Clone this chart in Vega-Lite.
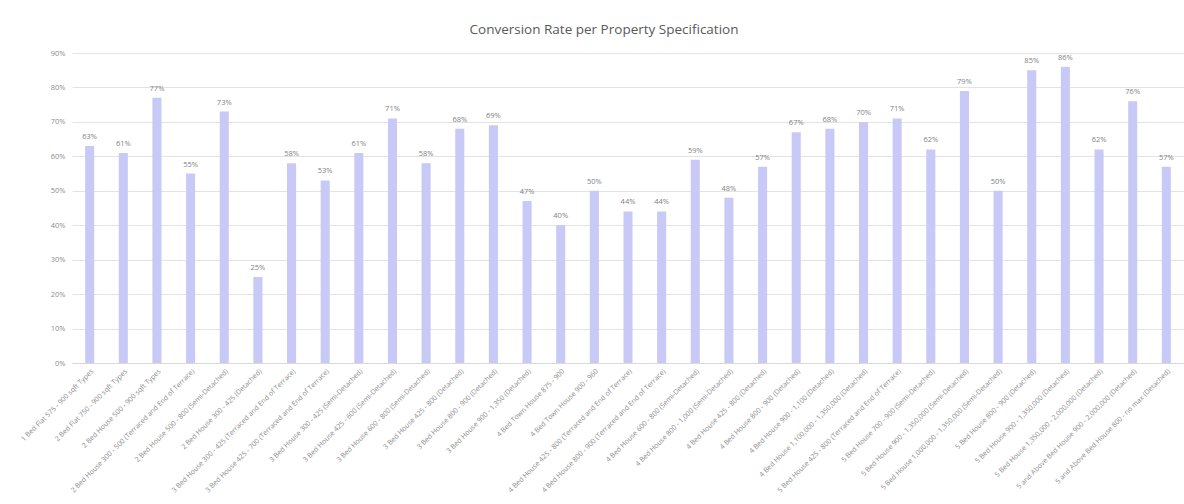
{
  "$schema": "https://vega.github.io/schema/vega-lite/v6.json",
  "autosize": "none",
  "width": 1112,
  "height": 310,
  "padding": {"left": 72, "top": 53, "right": 0, "bottom": 141},
  "background": "white",
  "title": {
    "text": "Conversion Rate per Property Specification",
    "font": "Open Sans",
    "fontSize": 13.5,
    "fontWeight": "normal",
    "color": "#595959",
    "anchor": "middle",
    "dx": -24,
    "offset": 13
  },
  "data": {
    "values": [
      {"spec": "1 Bed Flat 575 - 900 sqft Types", "rate": 0.63},
      {"spec": "2 Bed Flat 750 - 900 sqft Types", "rate": 0.61},
      {"spec": "2 Bed House 500 - 900 sqft Types", "rate": 0.77},
      {"spec": "2 Bed House 300 - 500 (Terraced and End of Terrace)", "rate": 0.55},
      {"spec": "2 Bed House 500 - 800 (Semi-Detached)", "rate": 0.73},
      {"spec": "2 Bed House 300 - 425 (Detached)", "rate": 0.25},
      {"spec": "3 Bed House 300 - 425 (Terraced and End of Terrace)", "rate": 0.58},
      {"spec": "3 Bed House 425 - 700 (Terraced and End of Terrace)", "rate": 0.53},
      {"spec": "3 Bed House 300 - 425 (Semi-Detached)", "rate": 0.61},
      {"spec": "3 Bed House 425 - 600 (Semi-Detached)", "rate": 0.71},
      {"spec": "3 Bed House 600 - 800 (Semi-Detached)", "rate": 0.58},
      {"spec": "3 Bed House 425 - 800 (Detached)", "rate": 0.68},
      {"spec": "3 Bed House 800 - 900 (Detached)", "rate": 0.69},
      {"spec": "3 Bed House 900 - 1,350 (Detached)", "rate": 0.47},
      {"spec": "4 Bed Town House 875 - 900", "rate": 0.40},
      {"spec": "4 Bed Town House 900 - 960", "rate": 0.50},
      {"spec": "4 Bed House 425 - 800 (Terraced and End of Terrace)", "rate": 0.44},
      {"spec": "4 Bed House 800 - 900 (Terraced and End of Terrace)", "rate": 0.44},
      {"spec": "4 Bed House 600 - 800 (Semi-Detached)", "rate": 0.59},
      {"spec": "4 Bed House 800 - 1,000 (Semi-Detached)", "rate": 0.48},
      {"spec": "4 Bed House 425 - 800 (Detached)", "rate": 0.57},
      {"spec": "4 Bed House 800 - 900 (Detached)", "rate": 0.67},
      {"spec": "4 Bed House 900 - 1,100 (Detached)", "rate": 0.68},
      {"spec": "4 Bed House 1,100,000 - 1,350,000 (Detached)", "rate": 0.70},
      {"spec": "5 Bed House 425 - 800 (Terraced and End of Terrace)", "rate": 0.71},
      {"spec": "5 Bed House 700 - 900 (Semi-Detached)", "rate": 0.62},
      {"spec": "5 Bed House 900 - 1,350,000 (Semi-Detached)", "rate": 0.79},
      {"spec": "5 Bed House 1,000,000 - 1,350,000 (Semi-Detached)", "rate": 0.50},
      {"spec": "5 Bed House 800 - 900 (Detached)", "rate": 0.85},
      {"spec": "5 Bed House 900 - 1,350,000 (Detached)", "rate": 0.86},
      {"spec": "5 Bed House 1,350,000 - 2,000,000 (Detached)", "rate": 0.62},
      {"spec": "5 and Above Bed House 900 - 2,000,000 (Detached)", "rate": 0.76},
      {"spec": "5 and Above Bed House 800 - no max (Detached)", "rate": 0.57}
    ]
  },
  "encoding": {
    "x": {
      "field": "spec",
      "type": "nominal",
      "sort": null,
      "scale": {"paddingInner": 0.73, "paddingOuter": 0.39},
      "axis": {
        "title": null,
        "labelAngle": -45,
        "labelFontSize": 7,
        "labelFont": "Open Sans",
        "labelColor": "#8c8c8c",
        "labelLimit": 300,
        "labelPadding": 4,
        "ticks": false,
        "domainColor": "#d9d9d9",
        "grid": false
      }
    },
    "y": {
      "field": "rate",
      "type": "quantitative",
      "scale": {"domain": [0, 0.9]},
      "axis": {
        "title": null,
        "format": ".0%",
        "values": [0, 0.1, 0.2, 0.3, 0.4, 0.5, 0.6, 0.7, 0.8, 0.9],
        "labelFontSize": 7.5,
        "labelFont": "Open Sans",
        "labelColor": "#8c8c8c",
        "labelPadding": 7,
        "ticks": false,
        "domain": false,
        "gridColor": "#e3e3e3"
      }
    }
  },
  "layer": [
    {"mark": {"type": "bar", "color": "#c9c9f7"}},
    {
      "mark": {"type": "text", "dy": -9, "fontSize": 7.5, "font": "Open Sans", "color": "#7f7f7f"},
      "encoding": {"text": {"field": "rate", "type": "quantitative", "format": ".0%"}}
    }
  ],
  "config": {"view": {"stroke": null}}
}
